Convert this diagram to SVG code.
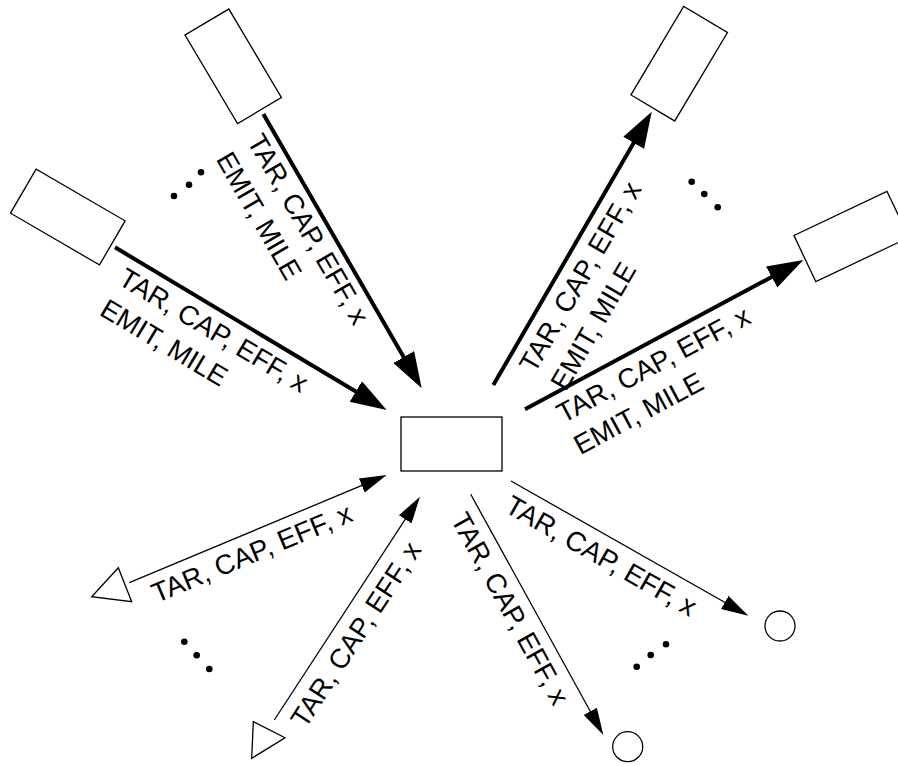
<svg xmlns="http://www.w3.org/2000/svg" width="898" height="766" viewBox="0 0 898 766">
<style>
.box{fill:#fff;stroke:#000;stroke-width:1.3}
.thick{stroke:#000;stroke-width:4;fill:none}
.thin{stroke:#000;stroke-width:1.3;fill:none}
.lbl{font-family:"Liberation Sans",Arial,sans-serif;font-size:27.5px;fill:#000}
.dot{fill:#000}
</style>
<defs>
<marker id="bigHead" markerUnits="userSpaceOnUse" markerWidth="38" markerHeight="26" refX="21" refY="12" orient="auto">
<path d="M0,0 L36,12 L0,24 Z" fill="#000"/>
</marker>
<marker id="smallHead" markerUnits="userSpaceOnUse" markerWidth="28" markerHeight="16" refX="17" refY="7.5" orient="auto">
<path d="M0,0 L27,7.5 L0,15 Z" fill="#000"/>
</marker>
</defs>
<g id="center"><rect class="box" x="401" y="417" width="101" height="54"/></g>
<g id="srcTop"><rect class="box" x="-51.5" y="-25.5" width="103" height="51" transform="translate(233.2,66.3) rotate(59.3)"/></g>
<g id="srcLeft"><rect class="box" x="-51.5" y="-25.5" width="103" height="51" transform="translate(67.8,217) rotate(30.2)"/></g>
<g id="dstTop"><rect class="box" x="-51.5" y="-25.5" width="103" height="51" transform="translate(679.2,63.7) rotate(-59.2)"/></g>
<g id="dstRight"><rect class="box" x="-51.5" y="-25.5" width="103" height="51" transform="translate(851.4,236.5) rotate(-25.4)"/></g>
<g id="triLeft"><polygon class="box" points="91.7,596.7 118.3,567.7 131.7,601.7"/></g>
<g id="triBottom"><polygon class="box" points="253.3,721.7 285,737.7 251.7,758.3"/></g>
<g id="circRight"><circle class="box" cx="780" cy="626" r="15"/></g>
<g id="circBottom"><circle class="box" cx="627.7" cy="746.7" r="15"/></g>
<g id="connectors">
<line class="thick" x1="263.3" y1="114" x2="414.2" y2="375.3" marker-end="url(#bigHead)"/>
<line class="thick" x1="115" y1="247.3" x2="373.8" y2="402.3" marker-end="url(#bigHead)"/>
<line class="thick" x1="493.3" y1="385" x2="644.2" y2="124.7" marker-end="url(#bigHead)"/>
<line class="thick" x1="525" y1="409.3" x2="790.1" y2="267.1" marker-end="url(#bigHead)"/>
<line class="thin" x1="129.3" y1="582.7" x2="377.5" y2="478.9" marker-end="url(#smallHead)"/>
<line class="thin" x1="274.3" y1="720" x2="414.5" y2="505.1" marker-end="url(#smallHead)"/>
<line class="thin" x1="511" y1="481" x2="739.6" y2="610.8" marker-end="url(#smallHead)"/>
<line class="thin" x1="470.7" y1="494.3" x2="598.5" y2="726.2" marker-end="url(#smallHead)"/>
</g>
<g id="labels">
<text class="lbl" transform="translate(246.6,141) rotate(60)"><tspan x="0" y="0">TAR, CAP, EFF, x</tspan><tspan x="0" y="36">EMIT, MILE</tspan></text>
<text class="lbl" transform="translate(116.8,283.3) rotate(30.9)"><tspan x="0" y="0">TAR, CAP, EFF, x</tspan><tspan x="0" y="36">EMIT, MILE</tspan></text>
<text class="lbl" transform="translate(534.6,374.3) rotate(-59.9)"><tspan x="0" y="0">TAR, CAP, EFF, x</tspan><tspan x="0" y="36">EMIT, MILE</tspan></text>
<text class="lbl" transform="translate(563.3,423.5) rotate(-28.2)"><tspan x="0" y="0">TAR, CAP, EFF, x</tspan><tspan x="0" y="36">EMIT, MILE</tspan></text>
<text class="lbl" transform="translate(156.4,603.3) rotate(-22.7)">TAR, CAP, EFF, x</text>
<text class="lbl" transform="translate(305.2,729.4) rotate(-56.9)">TAR, CAP, EFF, x</text>
<text class="lbl" transform="translate(503.2,511) rotate(29.6)">TAR, CAP, EFF, x</text>
<text class="lbl" transform="translate(450.2,519.3) rotate(61.15)">TAR, CAP, EFF, x</text>
</g>
<g id="ellipses">
<circle class="dot" cx="174" cy="196" r="3.3"/><circle class="dot" cx="189" cy="184.7" r="3.3"/><circle class="dot" cx="201" cy="172.3" r="3.3"/>
<circle class="dot" cx="691.7" cy="181.7" r="3.3"/><circle class="dot" cx="704.3" cy="194" r="3.3"/><circle class="dot" cx="717.7" cy="207.3" r="3.3"/>
<circle class="dot" cx="184.3" cy="641.7" r="3.3"/><circle class="dot" cx="196.7" cy="655.3" r="3.3"/><circle class="dot" cx="209.3" cy="669" r="3.3"/>
<circle class="dot" cx="666" cy="644.3" r="3.3"/><circle class="dot" cx="650.7" cy="655" r="3.3"/><circle class="dot" cx="636.7" cy="666.7" r="3.3"/>
</g>
</svg>
